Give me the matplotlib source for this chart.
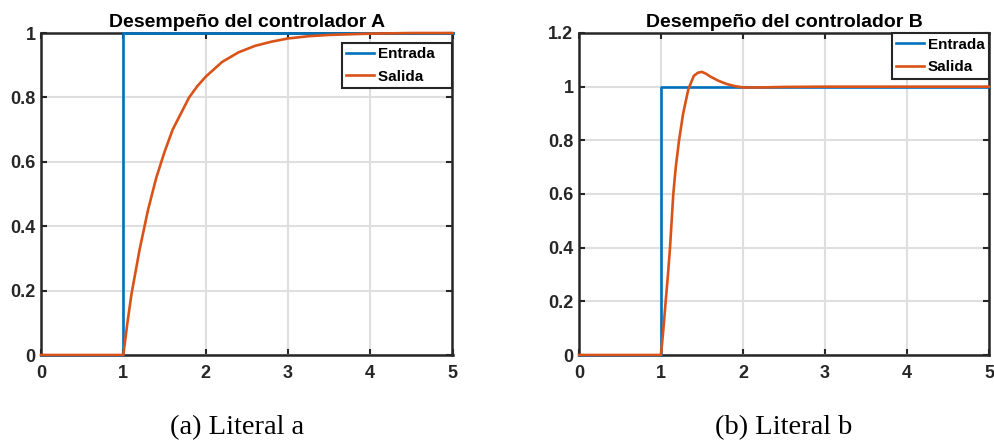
import matplotlib
matplotlib.use("Agg")
import matplotlib.pyplot as plt

# ---- data ----
entrada_t = [0, 1, 1, 5]
entrada_v = [0, 0, 1, 1]

salida_a_t = [0, 1.0, 1.05, 1.1, 1.2, 1.3, 1.4, 1.5, 1.6, 1.7, 1.8, 1.9, 2.0,
              2.2, 2.4, 2.6, 2.8, 3.0, 3.25, 3.5, 4.0, 4.5, 5.0]
salida_a_v = [0, 0.0, 0.10, 0.19, 0.33, 0.45, 0.55, 0.63, 0.70, 0.75, 0.80, 0.835, 0.864,
              0.91, 0.94, 0.96, 0.973, 0.983, 0.99, 0.994, 0.998, 1.0, 1.0]

salida_b_t = [0, 1.0, 1.03, 1.057, 1.085, 1.11, 1.13, 1.15, 1.18, 1.22, 1.27, 1.333,
              1.4, 1.45, 1.5, 1.55, 1.6, 1.7, 1.8, 1.9, 2.0, 2.2, 2.5, 3.0, 5.0]
salida_b_v = [0, 0.0, 0.10, 0.20, 0.30, 0.40, 0.50, 0.60, 0.70, 0.80, 0.90, 0.99,
              1.04, 1.052, 1.055, 1.048, 1.038, 1.022, 1.010, 1.002, 0.997, 0.997, 0.999, 1.0, 1.0]

x_ticks = [0, 1, 2, 3, 4, 5]
y_ticks_a = [0, 0.2, 0.4, 0.6, 0.8, 1.0]
y_ticks_b = [0, 0.2, 0.4, 0.6, 0.8, 1.0, 1.2]
titles = ["Desempeño del controlador A", "Desempeño del controlador B"]
captions = ["(a) Literal a", "(b) Literal b"]
labels = ["Entrada", "Salida"]

BLUE = "#0072BD"
ORANGE = "#D95319"
DARK = "#262626"

W, H = 995, 447
fig = plt.figure(figsize=(W / 100, H / 100), dpi=100)

sans = ["Liberation Sans", "DejaVu Sans"]
serif = ["Liberation Serif", "DejaVu Serif"]


def fmt(v):
    return f"{v:g}"


def make_axes(rect, sal_t, sal_v, yticks, ylim, title, caption, cap_x, legend_anchor, pad_labels):
    ax = fig.add_axes(rect)
    ax.set_xlim(0, 5)
    ax.set_ylim(*ylim)
    ax.set_xticks(x_ticks)
    ax.set_yticks(yticks)
    ax.set_xticklabels([fmt(v) for v in x_ticks], fontfamily=sans, fontweight="bold", fontsize=13, color=DARK)
    ax.set_yticklabels([fmt(v) for v in yticks], fontfamily=sans, fontweight="bold", fontsize=13, color=DARK)
    ax.grid(True, color="#dfdfdf", linewidth=1.5)
    ax.set_axisbelow(True)
    ax.tick_params(direction="in", length=4, width=1.5, color=DARK, top=True, right=True)
    ax.tick_params(axis="x", pad=7)
    ax.tick_params(axis="y", pad=4)
    for s in ax.spines.values():
        s.set_linewidth(1.8)
        s.set_color(DARK)
    suffix = "   " if pad_labels else ""
    ax.plot(entrada_t, entrada_v, color=BLUE, linewidth=1.9, label=labels[0] + suffix, clip_on=False, zorder=3)
    ax.plot(sal_t, sal_v, color=ORANGE, linewidth=1.9, label=labels[1] + suffix, clip_on=False, zorder=4)
    ax.set_title(title, fontfamily=sans, fontweight="bold", fontsize=14, pad=4, color="black")
    leg = ax.legend(loc="upper right", bbox_to_anchor=legend_anchor, borderaxespad=0,
                    fancybox=False, framealpha=1, edgecolor=DARK,
                    prop={"family": sans, "weight": "bold", "size": 11},
                    handlelength=1.8, handletextpad=0.25, borderpad=0.3, labelspacing=0.55)
    leg.get_frame().set_linewidth(1.5)
    leg.set_zorder(10)
    fig.text(cap_x / W, 1 - 428 / H, caption, ha="center", va="center", fontfamily=serif, fontsize=20.5)
    return ax


ax1 = make_axes([41 / W, 1 - 355 / H, (452.5 - 41) / W, (355 - 33) / H],
                salida_a_t, salida_a_v, y_ticks_a, (0, 1), titles[0], captions[0], 237.5,
                (0.998, 0.97), True)
ax2 = make_axes([579 / W, 1 - 355 / H, (989 - 579) / W, (355 - 33) / H],
                salida_b_t, salida_b_v, y_ticks_b, (0, 1.2), titles[1], captions[1], 784,
                (1.0, 1.0), False)

fig.savefig("out.png", dpi=100)
